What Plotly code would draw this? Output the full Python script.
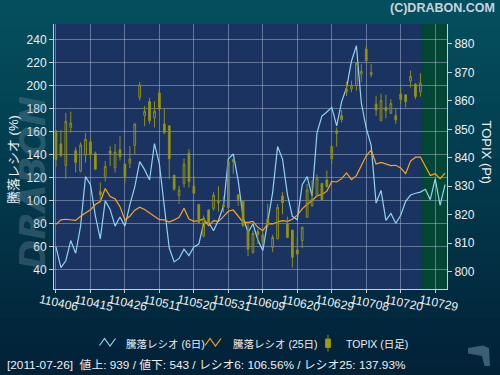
import plotly.graph_objects as go

# ---------------- data ----------------
tick_idx = [0, 7, 14, 21, 28, 35, 42, 49, 56, 63, 70, 77]
tick_labels = ["110406", "110415", "110426", "110511", "110520", "110531",
               "110609", "110620", "110629", "110708", "110720", "110729"]

ratio6 = [60, 42, 48, 65.5, 54.5, 78, 121, 114, 87, 67,
          100, 92.5, 78, 86, 78, 96.5, 112, 134, 127, 118,
          149.5, 132, 95, 59, 47, 50, 58, 52.5, 60, 62.5,
          80.5, 81.3, 74, 83.4, 95, 136.3, 140.6, 117.5, 85.7, 72.7,
          79.9, 66, 56.8, 82.8, 107.3, 147, 136.2, 105.3, 86.5, 83.5,
          114, 121, 104, 159, 173.5, 177, 181, 165, 186, 198,
          221, 234.5, 185, 163, 148, 98, 109, 83, 89, 80.5,
          87.5, 99.5, 105, 106.5, 107.5, 110, 101, 119, 96, 114]

ratio25 = [79.5, 83.4, 84.0, 83.4, 83.0, 86.6, 89.4, 92.2, 96.8, 99.4,
           110.6, 103.6, 101.7, 94.9, 83.3, 86.5, 91.9, 94.5, 92.5, 89.5,
           86.6, 83.6, 83.4, 81.5, 83.4, 85.7, 93.5, 84.2, 82.2, 82.8,
           84.2, 78.4, 82.8, 82.2, 86.3, 90.9, 92.0, 87.1, 81.3, 81.3,
           82.2, 77.0, 74.1, 79.9, 79.9, 81.6, 82.8, 82.2, 84.0, 87.5,
           93.0, 97.0, 100.0, 104.3, 105.5, 108.3, 116.8, 116.3, 119.2, 124.2,
           118.3, 121.8, 130.5, 139.0, 144.0, 131.9, 133.2, 131.6, 130.5, 130.8,
           128.5, 123.5, 134.5, 137.8, 137.9, 130.0, 122.0, 123.5, 119.2, 124.0]

topix_open = [849.5, 844.9, 837.3, 850.7, 842.5, 835.3, 841.0, 845.6, 841.6, 828.1,
              833.5, 842.4, 836.5, 842.8, 837.8, 838.1, 844.3, 861.2, 854.9, 859.8,
              854.0, 862.8, 851.9, 851.2, 833.9, 826.7, 831.0, 841.6, 830.0, 823.6,
              812.6, 821.6, 822.2, 824.7, 823.4, 822.5, 839.4, 826.9, 824.7, 814.4,
              806.8, 814.1, 810.3, 818.5, 808.5, 811.5, 826.6, 817.0, 814.6, 807.6,
              810.9, 819.1, 823.2, 826.7, 831.0, 832.2, 839.6, 849.5, 854.8, 864.2,
              864.2, 865.3, 869.4, 878.2, 869.2, 858.9, 853.0, 857.7, 855.6, 854.8,
              862.4, 862.1, 866.9, 865.9, 863.2]
topix_high = [849.8, 849.8, 855.8, 856.2, 843.7, 845.4, 848.7, 846.9, 842.2, 831.3,
              838.9, 844.1, 844.9, 847.7, 837.8, 844.1, 851.9, 866.6, 858.2, 861.0,
              859.8, 864.2, 857.4, 851.5, 833.9, 830.2, 839.8, 843.1, 833.7, 823.6,
              819.7, 822.0, 827.9, 830.0, 826.4, 839.0, 839.7, 827.3, 824.7, 816.7,
              814.4, 815.0, 813.8, 823.8, 812.9, 823.8, 827.9, 819.3, 814.6, 812.0,
              815.8, 830.8, 832.0, 834.1, 831.0, 835.5, 844.0, 850.7, 856.8, 866.7,
              867.1, 873.5, 873.0, 879.4, 873.0, 861.8, 862.6, 862.1, 860.6, 857.5,
              864.7, 862.4, 870.6, 866.2, 869.7]
topix_low = [836.9, 840.2, 832.6, 848.8, 834.9, 834.9, 838.3, 839.6, 835.7, 824.9,
             831.7, 837.1, 834.8, 839.0, 831.3, 836.4, 841.3, 860.1, 851.1, 851.9,
             850.7, 856.3, 848.3, 832.5, 828.4, 823.8, 829.6, 829.6, 827.3, 816.7,
             812.0, 816.7, 821.4, 821.1, 820.8, 822.0, 834.3, 823.1, 815.8, 805.4,
             806.2, 809.7, 809.1, 815.6, 806.8, 811.5, 820.2, 811.8, 801.5, 806.0,
             808.3, 819.1, 822.8, 826.1, 824.9, 829.6, 837.8, 843.9, 852.4, 861.7,
             863.0, 863.6, 866.5, 873.5, 868.3, 854.8, 853.0, 853.9, 855.4, 851.9,
             858.9, 857.7, 864.7, 860.6, 861.5]
topix_close = [839.3, 840.8, 852.8, 852.2, 838.3, 844.5, 846.5, 841.1, 836.0, 827.0,
               837.0, 841.5, 842.0, 840.4, 833.3, 839.6, 851.9, 865.6, 856.3, 853.0,
               856.3, 857.1, 848.8, 839.7, 829.0, 828.7, 837.8, 831.7, 827.5, 817.3,
               818.8, 817.1, 826.9, 824.2, 822.7, 838.7, 838.7, 825.3, 816.1, 807.9,
               813.4, 813.0, 812.9, 816.7, 812.0, 822.6, 824.3, 812.0, 805.0, 806.2,
               815.6, 828.7, 825.5, 832.8, 825.3, 829.8, 844.0, 848.6, 853.4, 863.2,
               865.3, 873.2, 870.4, 874.1, 870.0, 856.8, 860.1, 856.5, 859.1, 853.3,
               860.5, 859.7, 868.6, 861.5, 866.2]

left_ticks = [40, 60, 80, 100, 120, 140, 160, 180, 200, 220, 240]
right_ticks = [800, 810, 820, 830, 840, 850, 860, 870, 880]

series_names = ["騰落レシオ (6日)", "騰落レシオ (25日)", "TOPIX (日足)"]
status_text = "[2011-07-26]  値上: 939 / 値下: 543 / レシオ6: 106.56% / レシオ25: 137.93%"

# ---------------- styling helpers ----------------
FONT = "Liberation Sans, Noto Sans CJK JP, sans-serif"
C6 = "#8fd3f0"
C25 = "#ffa31a"
C_CANDLE_LINE = "#8e8e14"
C_CANDLE_FILL = "#9e9e00"
ML, MR, MT, MB, W, Hh = 54, 53, 24, 86, 500, 375
PW, PH = W - ML - MR, Hh - MT - MB


def px(x):
    return (x - ML) / PW


def py(y):
    return (Hh - MB - y) / PH


x_lines = list(range(len(ratio6)))
x_candle = list(range(len(topix_open)))

fig = go.Figure()
fig.add_trace(go.Scatter(x=x_lines, y=ratio6, mode="lines", name=series_names[0],
                         line=dict(color=C6, width=1.2), showlegend=False))
fig.add_trace(go.Scatter(x=x_lines, y=ratio25, mode="lines", name=series_names[1],
                         line=dict(color=C25, width=1.2), showlegend=False))
fig.add_trace(go.Candlestick(x=x_candle, open=topix_open, high=topix_high,
                             low=topix_low, close=topix_close, name=series_names[2],
                             yaxis="y2", whiskerwidth=0, showlegend=False,
                             increasing=dict(fillcolor="rgba(0,0,0,0)", line=dict(color=C_CANDLE_LINE, width=1)),
                             decreasing=dict(fillcolor=C_CANDLE_FILL, line=dict(color=C_CANDLE_LINE, width=1))))

# background gradient bands (paper)
shapes = []
n = 40
for k in range(n):
    t0 = k / n
    t1 = (k + 1) / n
    tm = (t0 + t1) / 2
    c0 = (4, 80, 96)
    c1 = (2, 33, 55)
    col = tuple(int(round(c0[j] + (c1[j] - c0[j]) * tm)) for j in range(3))
    shapes.append(dict(type="rect", xref="paper", yref="paper", x0=-0.2, x1=1.2,
                       y0=py(t1 * Hh) - 0.002, y1=py(t0 * Hh) + 0.002,
                       fillcolor="rgb(%d,%d,%d)" % col, line=dict(width=0), layer="below"))
# plot area
shapes.append(dict(type="rect", xref="paper", yref="paper", x0=0, x1=1, y0=0, y1=1,
                   fillcolor="#1b3360", line=dict(width=0), layer="below"))
# future (green) region
shapes.append(dict(type="rect", xref="x", yref="y", x0=74.2, x1=79.4, y0=23.5, y1=253.3,
                   fillcolor="#034636", line=dict(width=0), layer="below"))


def zigzag(x0, color):
    pts = [(x0, 345.5), (x0 + 5, 338.5), (x0 + 10.5, 346), (x0 + 16, 338.5)]
    path = "M " + " L ".join("%.5f,%.5f" % (px(a), py(b)) for a, b in pts)
    return dict(type="path", xref="paper", yref="paper", path=path,
                line=dict(color=color, width=1.2), layer="above")


# manual legend icons
shapes.append(zigzag(99.5, C6))
shapes.append(zigzag(205, C25))
shapes.append(dict(type="line", xref="paper", yref="paper", x0=px(328), x1=px(328),
                   y0=py(335), y1=py(351.5), line=dict(color=C_CANDLE_LINE, width=1)))
shapes.append(dict(type="rect", xref="paper", yref="paper", x0=px(325.5), x1=px(330.5),
                   y0=py(347.5), y1=py(339), fillcolor=C_CANDLE_FILL,
                   line=dict(color=C_CANDLE_LINE, width=1)))
# small corner emblem (bottom right)
emb = [(468, 348), (483, 345.5), (489, 348), (490, 366), (484.5, 366), (482, 356), (468, 353.5)]
shapes.append(dict(type="path", xref="paper", yref="paper",
                   path="M " + " L ".join("%.5f,%.5f" % (px(a), py(b)) for a, b in emb) + " Z",
                   fillcolor="#3b5e74", line=dict(width=0)))

annotations = []
for xi, lab in zip(tick_idx, tick_labels):
    annotations.append(dict(x=xi + 0.6, y=0, xref="x", yref="paper", text=lab,
                            showarrow=False, textangle=12, xanchor="center", yanchor="top",
                            yshift=-1, font=dict(family=FONT, size=12, color="#f0f0f0")))
for xt, name in zip([124, 231, 344], series_names):
    annotations.append(dict(x=px(xt), y=py(343.5), xref="paper", yref="paper", text=name,
                            showarrow=False, xanchor="left", yanchor="middle",
                            font=dict(family=FONT, size=10.5, color="#eeeeee")))
annotations += [
    dict(x=px(13), y=py(160), xref="paper", yref="paper", text="騰落レシオ (%)", showarrow=False,
         textangle=-90, xanchor="center", yanchor="middle",
         font=dict(family=FONT, size=13, color="#f0f0f0")),
    dict(x=px(486.5), y=py(152), xref="paper", yref="paper", text="TOPIX (Pt)", showarrow=False,
         textangle=90, xanchor="center", yanchor="middle",
         font=dict(family=FONT, size=13, color="#f0f0f0")),
    dict(x=px(497), y=py(8), xref="paper", yref="paper", text="(C)DRABON.COM", showarrow=False,
         xanchor="right", yanchor="middle",
         font=dict(family=FONT, size=12.5, color="#c9d3da", weight="bold")),
    dict(x=px(5), y=py(365), xref="paper", yref="paper", text=status_text, showarrow=False,
         xanchor="left", yanchor="middle", font=dict(family=FONT, size=11.8, color="#eeeeee")),
    dict(x=px(31.5), y=py(183), xref="paper", yref="paper", text="DRABON", showarrow=False,
         textangle=-90, xanchor="center", yanchor="middle",
         font=dict(family="DejaVu Sans", size=36, color="rgba(120,150,170,0.33)",
                   weight="bold", style="italic")),
]

fig.update_layout(
    width=W, height=Hh,
    margin=dict(l=ML, r=MR, t=MT, b=MB, autoexpand=False),
    paper_bgcolor="#03344a",
    plot_bgcolor="rgba(0,0,0,0)",
    shapes=shapes,
    annotations=annotations,
    showlegend=False,
    boxgap=0.5,
    xaxis=dict(range=[-0.4, 79.4], tickvals=tick_idx, showticklabels=False,
               showgrid=True, gridcolor="rgba(190,200,225,0.45)", gridwidth=1,
               zeroline=False, showline=True, linecolor="#c8ccd4", linewidth=1,
               ticks="outside", ticklen=3, tickcolor="#c8ccd4",
               rangeslider=dict(visible=False), fixedrange=True),
    yaxis=dict(range=[23.5, 253.3], tickvals=left_ticks,
               showgrid=True, gridcolor="rgba(190,200,225,0.45)", gridwidth=1,
               zeroline=False, showline=True, linecolor="#c8ccd4", linewidth=1,
               ticks="outside", ticklen=4, tickcolor="#c8ccd4",
               tickfont=dict(family=FONT, size=12, color="#f0f0f0")),
    yaxis2=dict(range=[793.9, 887.0], tickvals=right_ticks, overlaying="y", side="right",
                showgrid=False, zeroline=False, showline=True, linecolor="#c8ccd4", linewidth=1,
                ticks="outside", ticklen=4, tickcolor="#c8ccd4",
                tickfont=dict(family=FONT, size=12, color="#f0f0f0")),
)

fig.write_html("out.html", config={"displayModeBar": False},
               post_script="document.body.style.margin='0';document.body.style.padding='0';document.body.style.overflow='hidden';")
